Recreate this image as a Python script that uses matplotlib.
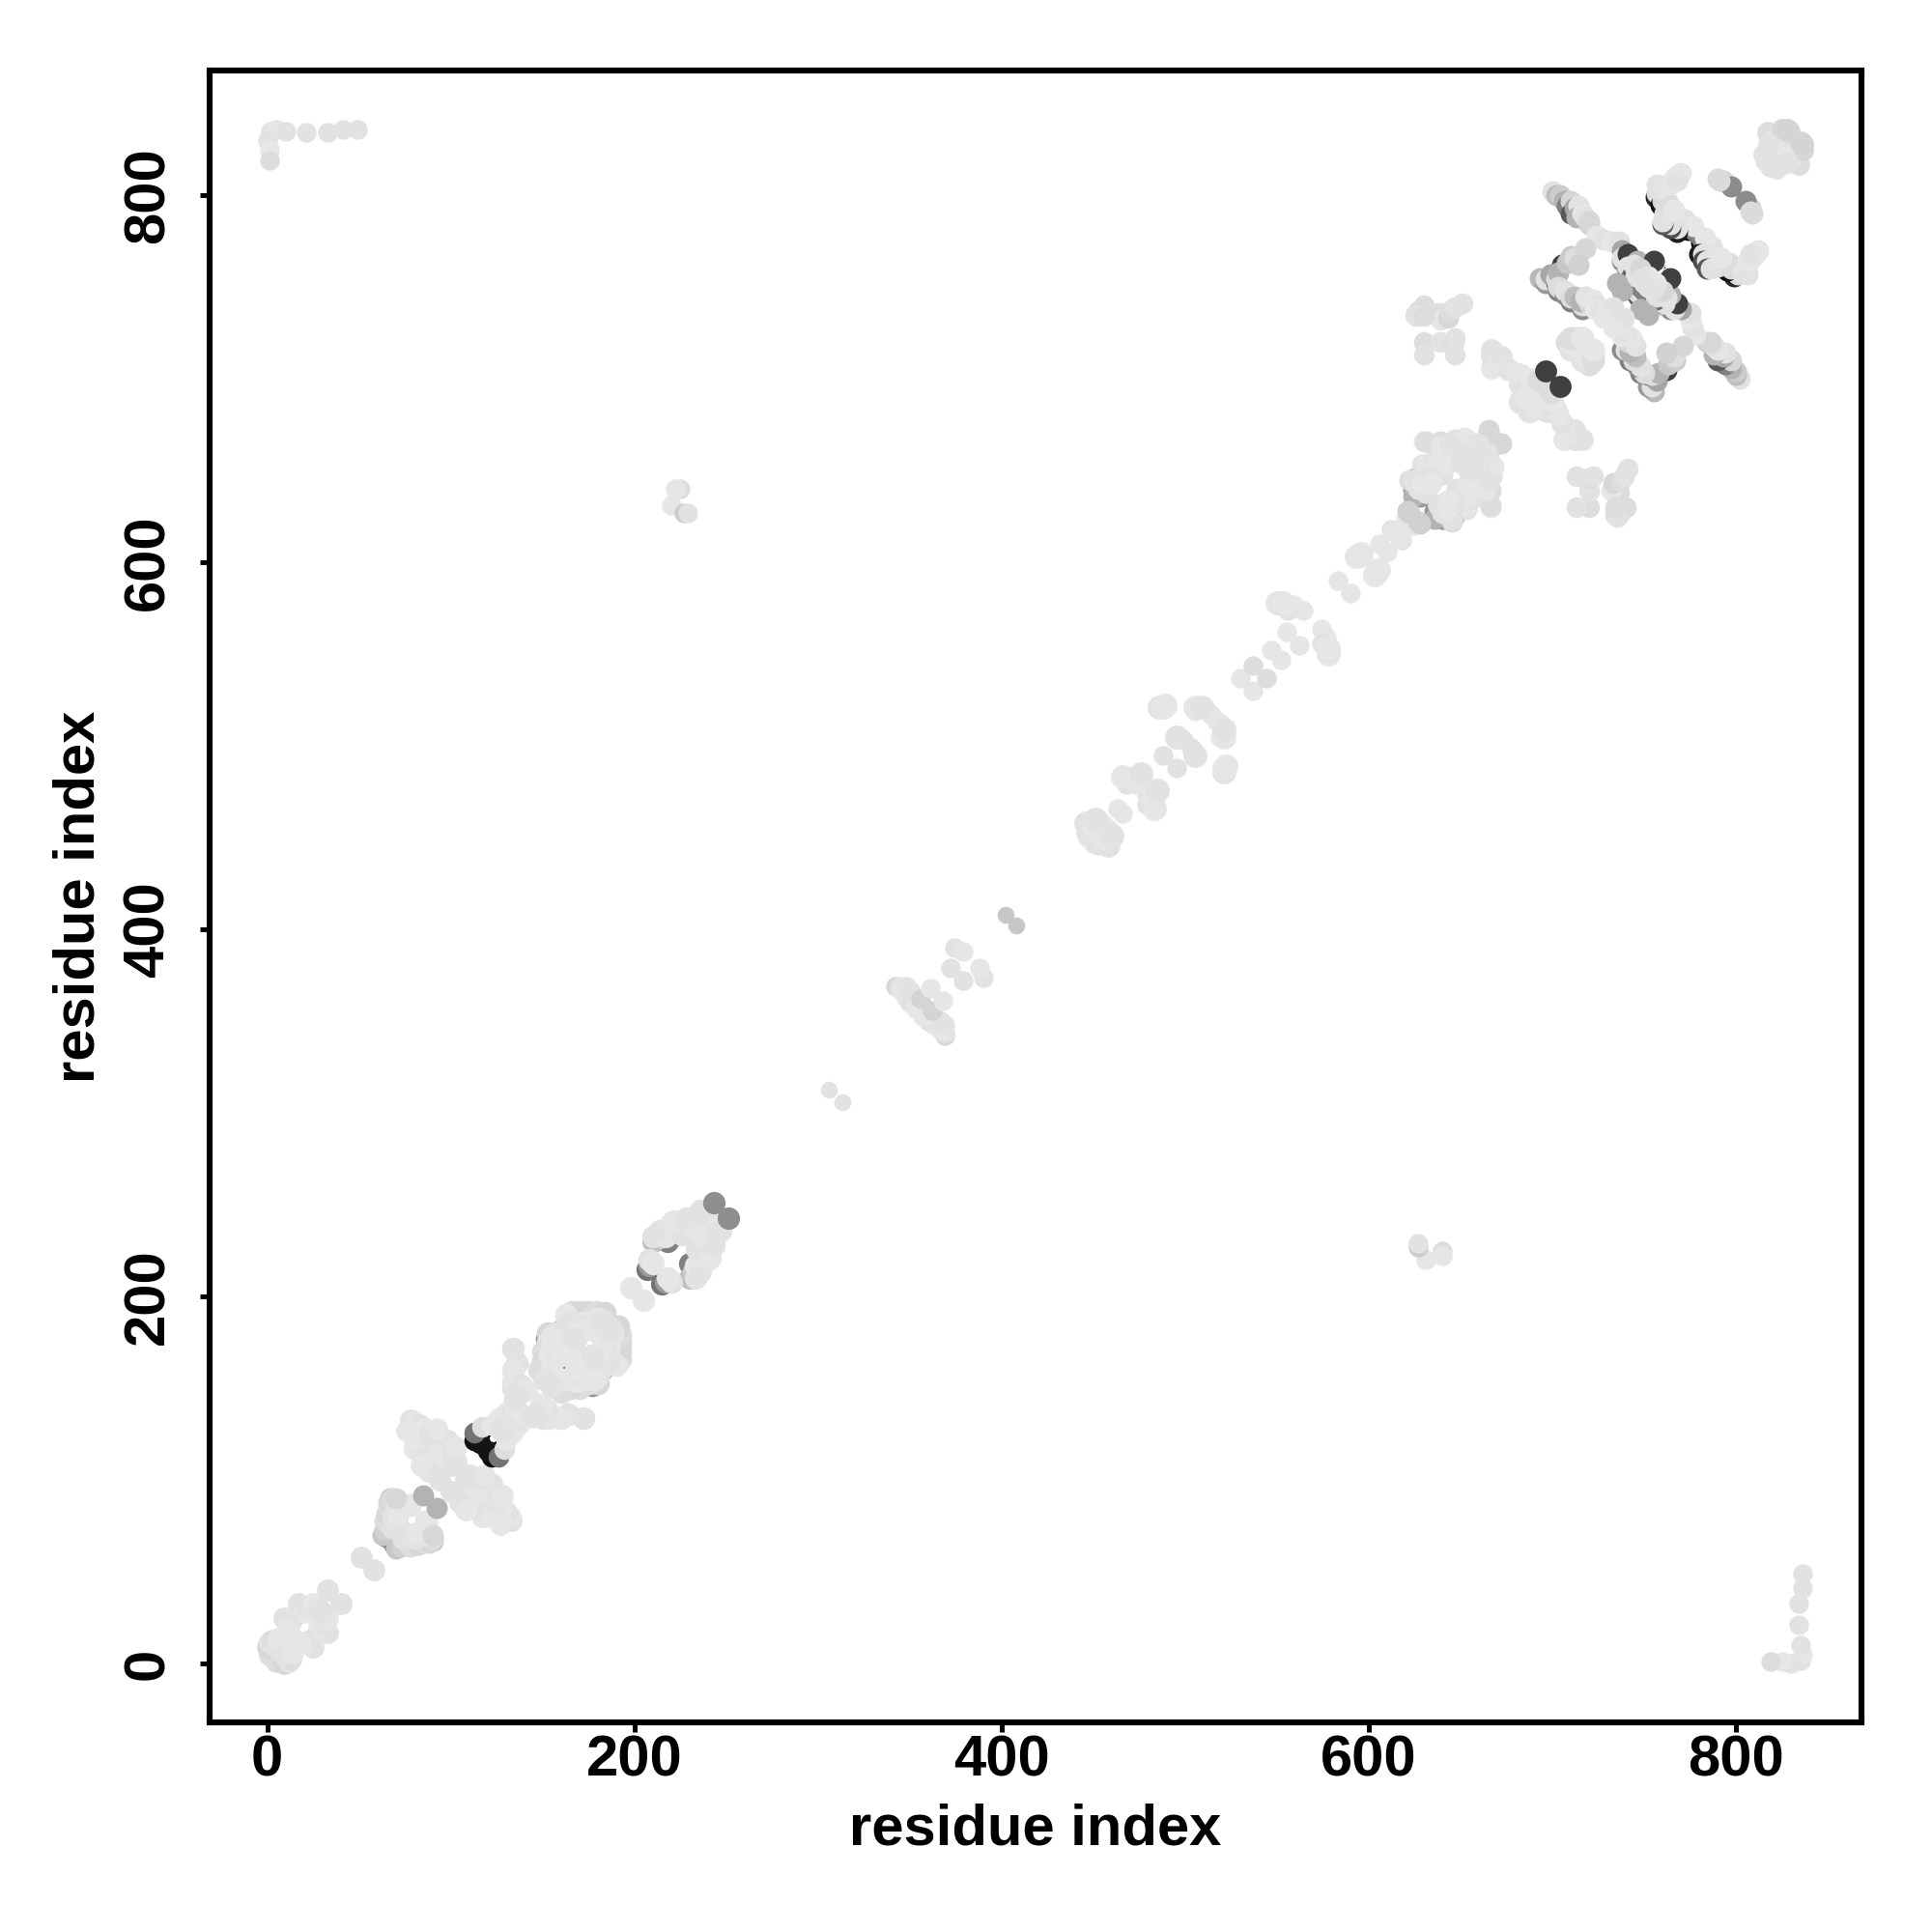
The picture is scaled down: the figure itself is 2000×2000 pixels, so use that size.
import matplotlib
matplotlib.use("Agg")
import matplotlib.pyplot as plt

plt.rcParams['font.family'] = ['Liberation Sans', 'DejaVu Sans']

# contacts as (residue i, residue j, grey level); each is drawn at (i,j) and (j,i)
A = 0.90
L = 0.885
M = 0.865
N = 0.845
near_start = [(1,5,M),(0,9,N),(1,12,L),(3,13,M),(5,9,L),(6,14,A),(9,25,L),(12,22,A),(14,25,L),(12,18,A),
              (17,33,L),(20,28,A),(22,31,L),(25,32,L),(25,33,A),(28,30,L),(33,40,L),(51,58,L)]
cluster_b = [(65,69,0.5),(66,71,0.55),(65,72,0.7),(67,90,0.74),(66,74,0.35),(63,70,0.78),(64,73,0.82),(64,78,M),(65,82,N),
             (66,86,M),(66,88,N),(68,90,M),(70,86,A),(72,84,L),(68,74,L),(71,76,L),(74,85,A),(77,87,A),
             (68,80,L),(71,80,A),(78,86,A),(70,90,N),(85,92,0.7)]
band_c = [(78,133,L),(80,132,A),(83,130,L),(86,128,A),(90,125,L),(94,122,A),(97,118,L),(100,114,A),(103,110,L),
          (80,117,A),(84,115,L),(88,112,A),(92,108,L),(95,106,A),(85,122,L),(88,118,A),(92,115,L),(96,112,A),(100,108,L),
          (78,128,A),(82,125,L),(85,126,A),(90,120,L),(94,116,A),(98,110,L),(80,122,A),(88,125,L),(76,127,A),(98,122,L),(92,128,A),
          (85,112,L),(90,110,A),(88,105,L),(84,108,A),(94,100,L),(103,118,A)]
cluster_d = [(116,126,0.04),(113,122,0.05),(115,124,0.05),(116,120,0.08),(113,126,0.45),(117,129,M),(122,130,A),(130,137,A),(126,134,A),(126,128,L)]
cluster_e = [(134,172,L),(136,164,L),(134,160,A),(134,150,L),(134,154,A),(138,152,L),(141,149,A),(136,146,L),(134,140,A),(137,134,L),(140,135,A),(145,135,L)]
cluster_f = [(172,183,0.5),(163,171,0.35),(160,174,0.45),(156,170,0.5),(154,173,0.55),(152,177,0.6),(158,178,0.55),(166,180,0.6),(160,182,0.7),(152,165,0.55),(158,165,0.5),(165,182,0.75),
             (166,192,M),(170,192,N),(175,192,N),(179,192,M),(184,191,N),(163,190,A),(168,186,L),(172,186,A),(176,186,L),(180,188,A),(183,187,L),
             (153,180,N),(153,175,L),(150,170,M),(150,165,N),(155,172,A),(157,180,L),(160,177,L),(164,176,A),(164,180,L),(152,160,L),(148,160,M),(154,168,A),(158,168,L),
             (161,173,L),(168,183,L),(172,182,A),(162,183,L),(155,178,A),(165,186,L),(170,181,A),
             (167,171,A),(168,177,L),(178,182,A),(181,186,L),(155,160,A),(151,155,L),(160,168,A)]
cluster_g = [(207,215,0.45),(208,217,0.6),(218,230,0.5),(210,230,0.75),(214,232,0.8),(198,205,A),(208,220,L),(210,218,A),
             (210,233,L),(217,233,A),(220,240,L),(214,236,L),(222,236,A),(226,234,L),(231,243,L),(236,247,L),(240,243,A),(226,240,L),(232,238,A),(235,245,L),(221,241,A),(228,243,L),(243,251,0.56)]
mid_small = [(225,640,M),(220,631,A),(222,640,A),(227,627,0.8),(229,627,L),
             (342,369,N),(344,369,L),(345,367,A),(348,369,L),(348,363,A),(350,360,L),(353,357,A),(350,367,L),(356,362,0.83),(361,368,A),
             (374,390,L),(379,388,A),(372,379,L),
             (447,450,A),(452,448,L),(455,458,A),(446,452,L),(463,466,A),(470,483,L),(474,482,A),(468,479,L),(473,479,A),
             (488,495,L),(498,504,A),(499,503,L),(505,519,A),(512,519,L),(514,517,A),
             (530,537,A),(537,544,M),(547,552,A),(559,577,A),(555,562,A),(564,574,A),(556,574,L),(554,576,A),
             (583,590,A),(606,610,A),(612,618,L),(613,617,A),(620,624,A)]
mid_large = [(446,458,L),(450,456,A),(451,460,L),(466,483,A),(476,485,L),(486,521,L),(488,521,A),(489,522,A),(495,505,L),(505,521,A),(509,521,L),
             (550,578,A),(552,578,L),(553,578,A),(595,604,L),(596,605,A),(593,603,A)]
cluster_n = [(637,650,0.3),(635,647,0.45),(628,636,0.6),(632,641,0.6),(627,645,0.7),(630,650,0.65),(624,640,0.75),(640,624,0.6),(646,625,0.7),(636,624,0.7),(642,628,0.55),
             (622,627,0.82),(621,628,0.82),(630,666,A),(639,666,M),(647,667,L),(652,668,A),(658,665,L),(665,671,N),(665,672,N),
             (639,655,L),(649,659,A),(660,664,L),(631,666,M),(653,661,A),(629,653,L),(632,652,A),(622,645,M),(631,638,M),(638,631,L),(624,645,L),(631,653,A),(635,656,L),
             (640,660,L),(644,658,A),(641,655,N),(645,656,A),(652,660,L),(639,658,M),(630,645,M),(636,653,A),(627,640,L),(629,643,A),(633,647,L),(647,658,L),(639,663,A),(644,665,L),
             (640,648,L),(642,653,A),(651,655,A),(655,660,L),(634,643,A),(650,654,L)]
off_pairs = [(626,734,M),(627,737,M),(630,740,M),(638,736,M),(639,732,A),(643,733,N),(644,737,M),(647,739,L),(651,741,L),
             (630,720,M),(639,720,L),(646,720,M),(647,722,L),(630,713,L),(647,713,L),(625,735,L),(630,734,M)]
band_o = [(667,716,L),(667,706,A),(667,712,L),(670,708,A),(672,712,L),(675,706,A),(676,705,L),(680,703,A),(682,697,L),(683,702,A),(685,695,L),(688,700,A),(690,692,L),(692,697,A),
          (687,682,A),(682,688,L),(685,690,A),(692,699,M),(696,704,0.25)]
blob = [(708,720,M),(710,716,L),(712,718,A),(712,722,L),(714,720,A),(715,722,L),(710,722,M),(716,722,A)]
band_1 = [(700,802,L),(702,800,0.75),(704,800,0.8),(706,797,0.7),(708,794,0.5),(710,797,N),(710,790,0.35),(712,793,0.65),(714,794,L),(713,788,0.7),(716,790,A),(718,788,L),(720,784,0.82),(720,786,N),
          (724,778,A),(728,776,L),(732,775,A),(736,775,L),(738,770,0.65),(738,764,0.55),(738,766,L),(741,768,0.25),(746,764,0.7),
          (755,761,0.0),(755,762.5,0.95),(755,764,0.25),
          (742,752,0.3),(742,754,L),(740,755,0.45),(740,757,M),(741,759,0.55),(741,761,L),(744,752,0.6),(745,756,L),(747,745,0.35),(747,747,L),(750,748,0.5),(752,750,L),(756,743,0.4),(756,745,L),(744,762,L),(748,760,N),(752,756,A),(738,748,0.7),(735,752,0.7),
          (755,749,L)]
band_2 = [(756,799,0.15),(757,801,M),(759,795,0.05),(760,797,N),(762,792,0.1),(762,794,L),(765,789,0.3),(765,791,L),(768,786,0.55),(768,788,M),
          (771,784,0.15),(771,786,0.7),(772,787,L),(774,781,0.0),(774,783,L),(777,781,0.5),(777,783,A),
          (761,788,0.5),(761,790,M),(768,780,0.1),(768,782,L),(763,796,M),(764,782,0.3),(764,784,L),(760,784,0.35),(760,786,L),
          (758,803,L),(760,805,A),(764,807,L),(767,810,A),(770,812,A),(757,806,L),(766,792,A),(764,806,A),(768,808,L),
          (790,809,M),(793,808,N),(797,805,0.55),(791,808,0.86)]
band_3 = [(693,755,0.72),(696,752,0.6),(696,754,L),(699,757,0.65),(702,752,0.5),(702,754,M),(705,762,0.25),(703,758,0.7),(703,748,0.5),(703,750,M),(707,746,0.55),(707,748,L),(710,742,0.5),(710,744,M),(712,745,0.75),(708,763,0.78),(710,767,0.8),(712,766,M),(718,771,0.84),(714,762,0.82),
          (716,738,0.55),(716,740,L),(715,742,0.7),(720,741,N),(718,745,L),(722,743,A),(724,740,L),(723,738,A),(726,738,L),(730,738,A),(733,739,L),(728,733,A)]
corner_tr = [(817,834,M),(820,830,A),(824,830,L),(825,836,N),(829,835,N),(828,836,0.83),(815,822,L),(820,826,A),(816,819,L),(822,816,L),(818,828,L)]
long_range = [(2,835,L),(5,836,A),(10,835,L),(0,830,L),(1,825,A),(1,819,M),(21,834,L),(33,834,L),(41,836,L),(49,836,L)]
small_pairs = [(306,313,L),(402,408,0.78)]

draw_groups = [(near_start, 270), (cluster_b, 250), (band_c, 270), (cluster_d, 240), (cluster_e, 290),
               (cluster_f, 290), (cluster_g, 280), (mid_small, 215), (mid_large, 320), (cluster_n, 250),
               (off_pairs, 240), (band_o, 270), (blob, 300), (band_1, 250), (band_2, 250), (band_3, 250),
               (corner_tr, 270), (long_range, 215), (small_pairs, 160)]

x_ticks = [0, 200, 400, 600, 800]
y_ticks = [0, 200, 400, 600, 800]
x_label = "residue index"
y_label = "residue index"

fig = plt.figure(figsize=(20, 20), dpi=100)
ax = fig.add_axes([0.1084, 0.1084, 0.8553, 0.8552])

for group, dot in draw_groups:
    for i, j, g in group:
        c = (g, g, g)
        ax.scatter([i, j], [j, i], s=dot, color=[c], linewidths=0, zorder=2)

ax.set_xlim(-31.5, 868.5)
ax.set_ylim(-32, 868)
ax.set_xticks(x_ticks)
ax.set_yticks(y_ticks)
ax.tick_params(axis='x', length=7.5, width=3.6, labelsize=43, pad=1)
ax.tick_params(axis='y', length=7.5, width=3.6, labelsize=43, pad=18)
for t in ax.get_xticklabels():
    t.set_fontweight('bold')
for t in ax.get_yticklabels():
    t.set_fontweight('bold')
    t.set_rotation(90)
    t.set_va('center')
for s in ax.spines.values():
    s.set_linewidth(4.4)
ax.set_xlabel(x_label, fontsize=43, fontweight='bold', labelpad=12)
ax.set_ylabel(y_label, fontsize=43, fontweight='bold', labelpad=12)

fig.savefig("out.png", dpi=100, facecolor='white')
